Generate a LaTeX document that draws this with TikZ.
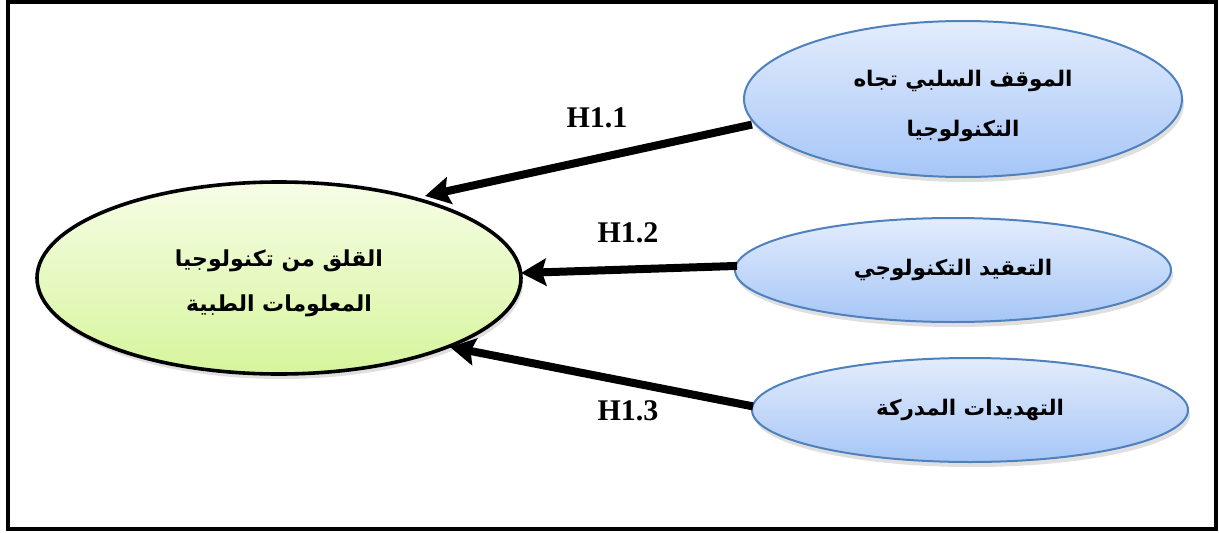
\documentclass[tikz,border=0pt]{standalone}
\usepackage{fontspec}
\setmainfont{Liberation Serif}
\newfontfamily\arabicfont[Script=Arabic]{DejaVu Sans}
\TeXXeTstate=1
\usetikzlibrary{shapes.geometric,shadows,arrows.meta}
\definecolor{blueedge}{HTML}{4F81BD}
\definecolor{bluetop}{HTML}{E3ECFC}
\definecolor{bluebot}{HTML}{A6C6F7}
\definecolor{greentop}{HTML}{F6FDE6}
\definecolor{greenbot}{HTML}{D6F59C}
\tikzset{
  bluebox/.style={ellipse, draw=blueedge, line width=2pt, top color=bluetop, bottom color=bluebot,
    drop shadow={shadow xshift=2pt, shadow yshift=-5pt, opacity=.25}, inner sep=0pt,
    font=\arabicfont\bfseries\fontsize{21.5}{50}\selectfont, align=center},
  greenbox/.style={ellipse, draw=black, line width=3.6pt, top color=greentop, bottom color=greenbot,
    drop shadow={shadow xshift=2pt, shadow yshift=-5pt, opacity=.25}, inner sep=0pt,
    font=\arabicfont\bfseries\fontsize{22}{45}\selectfont, align=center},
  link/.style={line width=8pt, -{Stealth[length=25pt,width=27pt,inset=4pt]}, shorten <=-2pt},
  hlabel/.style={font=\bfseries\fontsize{30}{32}\selectfont}
}
\begin{document}
\begin{tikzpicture}[x=1pt,y=-1pt]
\useasboundingbox (0,0) rectangle (1219,533);
\node[draw, line width=4.5pt, minimum width=1208pt, minimum height=527pt, inner sep=0pt] (frame) at (612,265.5) {};
\node[greenbox, minimum width=484pt, minimum height=192pt] (dv) at (279,278) {};
\node[font=\arabicfont\bfseries\fontsize{22}{45}\selectfont, align=center] (dvt) at (279,283)
  {\beginR القلق من تكنولوجيا\endR\\ \beginR المعلومات الطبية\endR};
\node[bluebox, minimum width=438pt, minimum height=156pt] (a) at (963,99) {};
\node[font=\arabicfont\bfseries\fontsize{21.5}{50}\selectfont, align=center] (at) at (963,106)
  {\beginR الموقف السلبي تجاه\endR\\ \beginR التكنولوجيا\endR};
\node[bluebox, minimum width=436pt, minimum height=104pt] (b) at (953,270)
  {\beginR التعقيد التكنولوجي\endR};
\node[bluebox, minimum width=436pt, minimum height=104pt] (c) at (970,410)
  {\beginR التهديدات المدركة\endR};
\coordinate (a1) at (750,125);
\coordinate (b1) at (735,266);
\coordinate (c1) at (751,406);
\coordinate (t1) at (425,196);
\coordinate (t2) at (521,273);
\coordinate (t3) at (450,347);
\draw[link] (a1) -- (t1);
\draw[link] (b1) -- (t2);
\draw[link] (c1) -- (t3);
\node[hlabel] (h1) at (597,118) {H1.1};
\node[hlabel] (h2) at (628,233) {H1.2};
\node[hlabel] (h3) at (628,411) {H1.3};
\end{tikzpicture}
\end{document}
